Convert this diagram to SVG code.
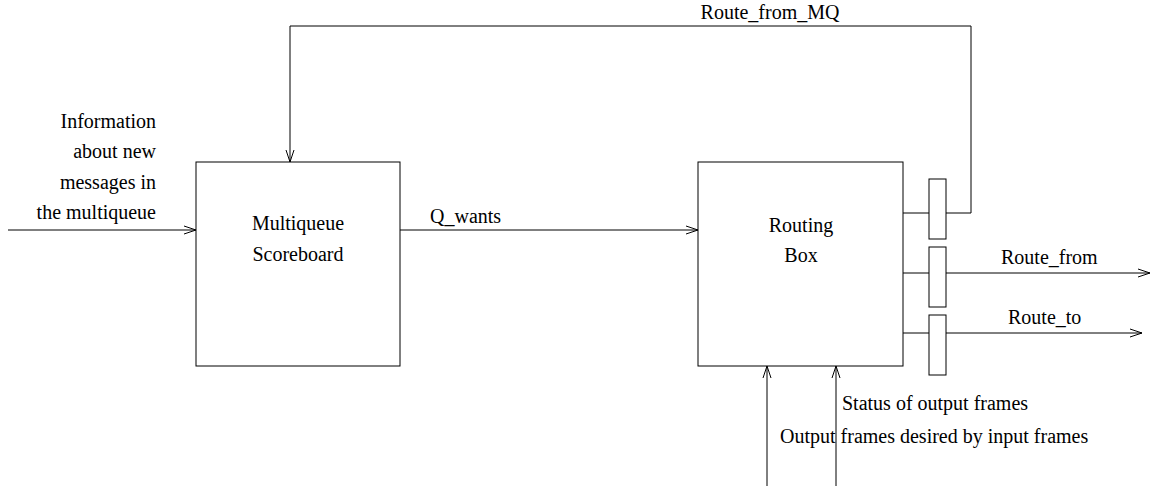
<svg xmlns="http://www.w3.org/2000/svg" width="1161" height="486" viewBox="0 0 1161 486">
<defs>
<style>
text{font-family:"Liberation Serif","Times New Roman",serif;font-size:20px;fill:#000}
.box{fill:#fff;stroke:#000;stroke-width:1}
.ln{fill:none;stroke:#000;stroke-width:1}
</style>
<marker id="ah" markerUnits="userSpaceOnUse" markerWidth="14" markerHeight="10" viewBox="-13 -5 14 10" refX="0" refY="0" orient="auto">
<path d="M-12,-4 L0,0 L-12,4" fill="none" stroke="#000" stroke-width="1"/>
</marker>
</defs>
<rect width="1161" height="486" fill="#fff"/>
<g id="connectors">
<line class="ln" x1="8" y1="230" x2="196" y2="230" marker-end="url(#ah)"/>
<line class="ln" x1="400" y1="230" x2="698" y2="230" marker-end="url(#ah)"/>
<polyline class="ln" points="903,213 971,213 971,26 290,26 290,162" marker-end="url(#ah)"/>
<line class="ln" x1="903" y1="273" x2="1150" y2="273" marker-end="url(#ah)"/>
<line class="ln" x1="903" y1="333" x2="1142" y2="333" marker-end="url(#ah)"/>
<line class="ln" x1="767" y1="486" x2="767" y2="366" marker-end="url(#ah)"/>
<line class="ln" x1="836" y1="486" x2="836" y2="366" marker-end="url(#ah)"/>
<text x="770" y="19" text-anchor="middle">Route_from_MQ</text>
<text x="156" y="128" text-anchor="end">Information</text>
<text x="156" y="158" text-anchor="end">about new</text>
<text x="156" y="189" text-anchor="end">messages in</text>
<text x="156" y="219" text-anchor="end">the multiqueue</text>
<text x="430" y="223">Q_wants</text>
<text x="1001" y="264">Route_from</text>
<text x="1008" y="324">Route_to</text>
<text x="842" y="410">Status of output frames</text>
<text x="780" y="443">Output frames desired by input frames</text>
</g>
<g id="multiqueue">
<rect class="box" x="196" y="162" width="204" height="204"/>
<text x="298" y="230" text-anchor="middle">Multiqueue</text>
<text x="298" y="261" text-anchor="middle">Scoreboard</text>
</g>
<g id="routing">
<rect class="box" x="698" y="162" width="205" height="204"/>
<text x="801" y="232" text-anchor="middle">Routing</text>
<text x="801" y="262" text-anchor="middle">Box</text>
</g>
<g id="reg1"><rect class="box" x="929" y="179" width="17" height="60"/></g>
<g id="reg2"><rect class="box" x="929" y="247" width="17" height="60"/></g>
<g id="reg3"><rect class="box" x="929" y="315" width="17" height="60"/></g>
</svg>
